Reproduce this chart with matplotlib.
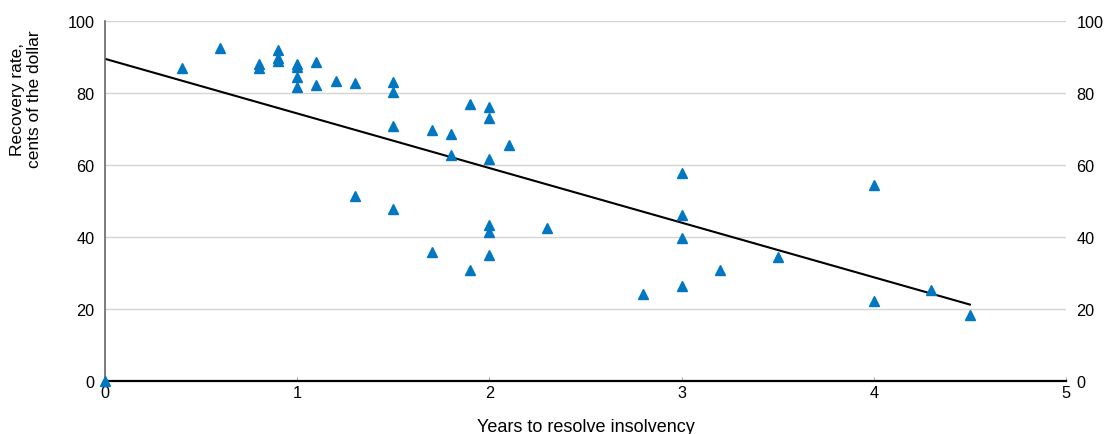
import numpy as np
import matplotlib.pyplot as plt

plt.rcParams['font.family'] = ['Liberation Sans', 'DejaVu Sans']

# years needed to resolve insolvency vs. recovery rate (cents on the dollar)
years = [0, 0.4, 0.6, 0.8, 0.8, 0.9, 0.9, 0.9, 1.0, 1.0, 1.0, 1.0,
         1.1, 1.1, 1.2, 1.3, 1.3, 1.5, 1.5, 1.5, 1.5, 1.7, 1.7, 1.8, 1.8,
         1.9, 1.9, 2.0, 2.0, 2.0, 2.0, 2.0, 2.0, 2.1, 2.3, 2.8,
         3.0, 3.0, 3.0, 3.0, 3.2, 3.5, 4.0, 4.0, 4.3, 4.5]
recovery = [0, 87, 92.5, 88, 87, 92, 89.7, 88.9, 88, 87.3, 84.4, 81.7,
            88.6, 82.3, 83.3, 82.8, 51.5, 83, 80.2, 70.9, 47.7, 69.7, 35.9, 68.5, 62.7,
            77, 30.9, 76.2, 73, 61.8, 43.4, 41.4, 34.9, 65.6, 42.4, 24.2,
            57.9, 46.1, 39.6, 26.4, 30.7, 34.5, 54.4, 22.3, 25.2, 18.4]

# linear trend
trend_intercept = 89.5
trend_slope = -15.17
trend_x = np.array([0, 4.5])

fig = plt.figure(figsize=(11.06, 4.35), dpi=100)
ax = fig.add_axes([0.0949, 0.1218, 0.8689, 0.8276])

ax.set_xlim(0, 5)
ax.set_ylim(0, 100)
ax.set_yticks(range(0, 101, 20))
ax.set_xticks(range(0, 6))
ax.grid(axis='y', color='#d4d4d4', lw=1)
ax.set_axisbelow(True)

ax.plot(trend_x, trend_intercept + trend_slope * trend_x, color='black', lw=1.5, zorder=2)
ax.plot(years, recovery, ls='none', marker='^', ms=7.5, color='#0077c0',
        mec='#0077c0', clip_on=False, zorder=3)

for s in ['top', 'right']:
    ax.spines[s].set_visible(False)
ax.spines['left'].set_color('#666666')
ax.spines['left'].set_linewidth(1.2)
ax.spines['bottom'].set_color('black')
ax.spines['bottom'].set_linewidth(1.6)
ax.spines['bottom'].set_zorder(2.5)

ax.tick_params(axis='x', direction='in', length=3, color='#aaaaaa', labelsize=11.7, pad=3)
ax.tick_params(axis='y', length=0, labelsize=11.7, pad=7.5, labelright=True, right=False)

ax.set_xlabel('Years to resolve insolvency', fontsize=13, labelpad=13)
fig.text(26 / 1106, 1 - 99 / 435, 'Recovery rate,\ncents of the dollar', fontsize=12.5,
         rotation=90, ha='center', va='center', multialignment='center')

fig.savefig('out.png', dpi=100)
